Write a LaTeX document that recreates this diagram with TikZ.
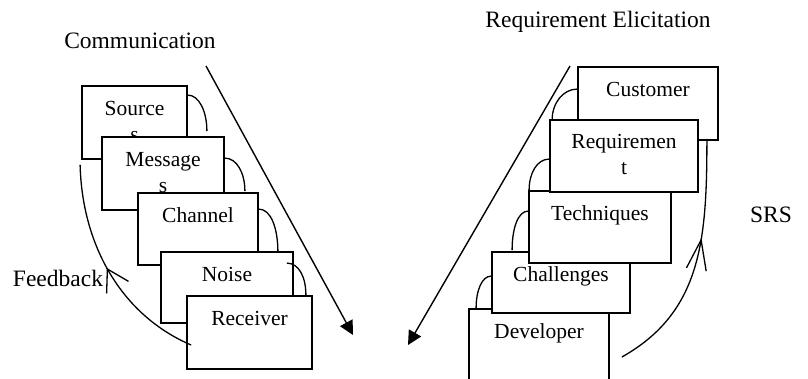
\documentclass[tikz,border=0pt]{standalone}
\usepackage{fontspec}
\setmainfont{Liberation Serif}
\usetikzlibrary{arrows.meta,calc,decorations.markings}
\begin{document}
\begin{tikzpicture}[x=1pt,y=-1pt,
  box/.style={draw, line width=1.8pt, fill=white, inner sep=0pt},
  lbl/.style={font=\fontsize{21.5}{26}\selectfont, inner sep=0pt, anchor=base},
  head/.style={font=\fontsize{23.5}{28}\selectfont, inner sep=0pt, anchor=base},
  arc/.style={line width=1.3pt},
  flow/.style={line width=1.4pt, -{Triangle[length=14pt,width=14pt]}},
  fb/.style={line width=1.3pt, postaction={decorate},
    decoration={markings, mark=at position #1 with {\arrow{Straight Barb[length=21pt,width=25pt,line width=1.3pt]}}}},
  srs/.style={line width=1.3pt, postaction={decorate},
    decoration={markings, mark=at position #1 with {\arrow{Straight Barb[length=30pt,width=20pt,line width=1.3pt]}}}},
]
\path[use as bounding box] (0,0) rectangle (808,379);
\clip (0,0) rectangle (808,379);

% headings
\node[head] (comm) at (140,49) {Communication};
\node[head] (reqel) at (598,27.5) {Requirement Elicitation};
\node[head] (fbtxt) at (58,287) {Feedback};
\node[head] (srstxt) at (771,223) {SRS};

% left stack
\node[box, minimum width=105pt, minimum height=73pt] (source) at (134.5,122.5) {};
\node[lbl] (sourcel) at ($(source.north)+(0,30.5)$) {\begin{tabular}[t]{@{}c@{}}Source\\s\end{tabular}};
\node[box, minimum width=122pt, minimum height=73pt] (message) at (163,173.5) {};
\node[lbl] (messagel) at ($(message.north)+(0,30.5)$) {\begin{tabular}[t]{@{}c@{}}Message\\s\end{tabular}};
\node[box, minimum width=120pt, minimum height=72pt] (channel) at (198,229) {};
\node[lbl] (channell) at ($(channel.north)+(0,30.5)$) {Channel};
\node[box, minimum width=132pt, minimum height=71pt] (noise) at (227,287.5) {};
\node[lbl] (noisel) at ($(noise.north)+(0,30.5)$) {Noise};
\node[box, minimum width=125pt, minimum height=73pt] (receiver) at (249.5,332.5) {};
\node[lbl] (receiverl) at ($(receiver.north)+(0,30.5)$) {Receiver};

% right stack
\node[box, minimum width=140pt, minimum height=91pt] (developer) at (539,354.5) {};
\node[lbl] (developerl) at ($(developer.north)+(0,30.5)$) {Developer};
\node[box, minimum width=138pt, minimum height=61pt] (challenges) at (561,282.5) {};
\node[lbl] (challengesl) at ($(challenges.north)+(0,30.5)$) {Challenges};
\node[box, minimum width=142pt, minimum height=72pt] (techniques) at (600,227) {};
\node[lbl] (techniquesl) at ($(techniques.north)+(0,30.5)$) {Techniques};
\node[box, minimum width=140pt, minimum height=73pt] (customer) at (648,103.5) {};
\node[lbl] (customerl) at ($(customer.north)+(0,30.5)$) {Customer};
\node[box, minimum width=148pt, minimum height=72pt] (requirement) at (624,156) {};
\node[lbl] (requirementl) at ($(requirement.north)+(0,29)$) {\begin{tabular}[t]{@{}c@{}}Requiremen\\t\end{tabular}};

% small arcs, left
\draw[arc] ($(source.north east)+(0,10)$) .. controls +(11,0) and +(0,-20) .. ($(message.north east)+(-18,-5)$);
\draw[arc] ($(message.north east)+(0,22)$) .. controls +(12,0) and +(0,-18) .. ($(channel.north east)+(-14,-1)$);
\draw[arc] ($(channel.north east)+(0,17)$) .. controls +(12,0) and +(0,-24) .. ($(noise.north east)+(-16,1)$);
\draw[arc] ($(noise.north east)+(-7,12)$) .. controls +(12,0) and +(0,-18) .. ($(receiver.north east)+(-7,0)$);

% small arcs, right
\draw[arc] ($(customer.north west)+(0,23)$) .. controls +(-14,0) and +(0,-17) .. ($(requirement.north west)+(3,1)$);
\draw[arc] ($(requirement.north west)+(0,40)$) .. controls +(-12,0) and +(0,-17) .. ($(techniques.north west)+(1,0)$);
\draw[arc] ($(techniques.north west)+(0,21)$) .. controls +(-10,0) and +(0,-22) .. ($(challenges.north west)+(21,-1)$);
\draw[arc] ($(challenges.north west)+(0,25)$) .. controls +(-9,0) and +(0,-18) .. ($(developer.north west)+(8,0)$);

% main arrows
\coordinate (c1s) at (206,66);
\coordinate (c1e) at (353,335);
\coordinate (c2s) at (570,66);
\coordinate (c2e) at (408,345);
\draw[flow] (c1s) -- (c1e);
\draw[flow] (c2s) -- (c2e);

% feedback and SRS curves
\draw[fb=0.52] ($(receiver.west)+(5,12.5)$) .. controls +(-70,-30) and +(2,80) .. ($(source.south west)+(-1,5)$);
\draw[srs=0.6] ($(developer.east)+(12,2.5)$) .. controls +(80,-45) and +(0,100) .. ($(customer.south east)+(-12,-2)$);
\end{tikzpicture}
\end{document}
